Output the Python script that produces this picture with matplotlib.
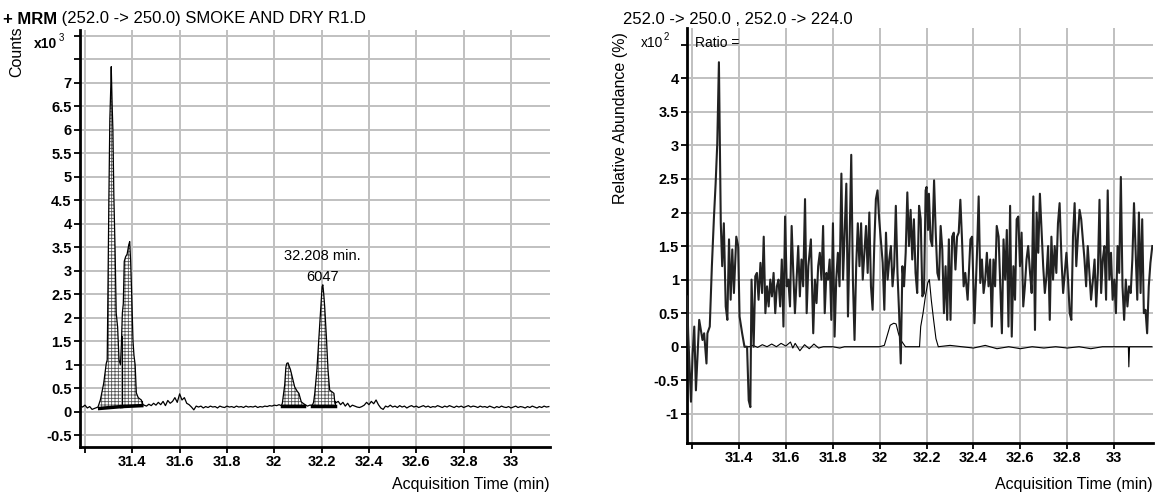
import numpy as np
import matplotlib.pyplot as plt

plt.rcParams['font.family'] = ['Liberation Sans', 'DejaVu Sans']
plt.rcParams['hatch.linewidth'] = 0.6

# ---------------- left panel: MRM chromatogram (counts x10^3) ----------------
noise_start = 31.18
noise_step = 0.01
noise_counts = [
    0.12, 0.10, 0.14, 0.08, 0.11, 0.05, 0.07, 0.06, 0.10, 0.15,   # 31.18
    0.15, 0.15, 0.15, 0.15, 0.15, 0.15, 0.15, 0.15, 0.15, 0.15,   # 31.28
    0.15, 0.15, 0.15, 0.15, 0.15, 0.15, 0.15, 0.14, 0.12, 0.16,   # 31.38
    0.13, 0.18, 0.14, 0.20, 0.15, 0.22, 0.13, 0.24, 0.18, 0.22,   # 31.48
    0.30, 0.20, 0.38, 0.25, 0.30, 0.18, 0.15, 0.10, 0.04, 0.12,   # 31.58
    0.10, 0.12, 0.08, 0.11, 0.09, 0.12, 0.10, 0.11, 0.08, 0.12,   # 31.68
    0.10, 0.09, 0.12, 0.10, 0.11, 0.09, 0.12, 0.10, 0.11, 0.09,   # 31.78
    0.12, 0.10, 0.11, 0.10, 0.12, 0.09, 0.11, 0.10, 0.12, 0.11,   # 31.88
    0.13, 0.12, 0.14, 0.13, 0.15, 0.15, 0.15, 0.15, 0.15, 0.15,   # 31.98
    0.15, 0.15, 0.15, 0.15, 0.15, 0.15, 0.12, 0.14, 0.14, 0.14,   # 32.08
    0.14, 0.14, 0.14, 0.14, 0.14, 0.14, 0.14, 0.14, 0.20, 0.22,   # 32.18
    0.15, 0.20, 0.12, 0.18, 0.10, 0.14, 0.12, 0.10, 0.09, 0.11,   # 32.28
    0.14, 0.20, 0.15, 0.22, 0.17, 0.25, 0.15, 0.08, 0.05, 0.12,   # 32.38
    0.10, 0.14, 0.10, 0.12, 0.09, 0.13, 0.10, 0.12, 0.08, 0.11,   # 32.48
    0.13, 0.10, 0.12, 0.09, 0.11, 0.13, 0.10, 0.12, 0.09, 0.11,   # 32.58
    0.10, 0.13, 0.11, 0.09, 0.12, 0.10, 0.13, 0.11, 0.09, 0.12,   # 32.68
    0.10, 0.12, 0.09, 0.11, 0.13, 0.10, 0.12, 0.11, 0.09, 0.12,   # 32.78
    0.10, 0.11, 0.09, 0.12, 0.10, 0.08, 0.11, 0.09, 0.12, 0.10,   # 32.88
    0.09, 0.11, 0.08, 0.10, 0.12, 0.09, 0.11, 0.10, 0.08, 0.11,   # 32.98
    0.09, 0.12, 0.10, 0.08, 0.11, 0.09, 0.12, 0.10, 0.11,         # 33.08
]

peak_time = [
    31.255, 31.265, 31.279, 31.290, 31.294, 31.297, 31.301, 31.305, 31.309, 31.311,
    31.315, 31.318, 31.322, 31.327, 31.332, 31.338, 31.344, 31.350, 31.354, 31.358,
    31.362, 31.366, 31.372, 31.378, 31.385, 31.389, 31.393, 31.398, 31.403, 31.407,
    31.412, 31.417, 31.425, 31.438, 31.445,
    32.030, 32.034, 32.044, 32.049, 32.053, 32.058, 32.062, 32.068, 32.072, 32.080,
    32.086, 32.095, 32.104, 32.114, 32.124,
    32.161, 32.166, 32.171, 32.180, 32.188, 32.195, 32.202, 32.205, 32.209, 32.213,
    32.220, 32.227, 32.234, 32.245, 32.252, 32.256,
]
peak_counts = [
    0.10, 0.25, 0.60, 1.03, 1.10, 2.60, 4.50, 6.20, 6.90, 7.34,
    6.50, 6.00, 4.60, 3.50, 2.10, 1.80, 1.10, 1.00, 1.45, 2.10,
    2.30, 3.20, 3.30, 3.35, 3.55, 3.62, 3.20, 2.40, 1.50, 1.20,
    1.00, 0.40, 0.30, 0.25, 0.15,
    0.13, 0.18, 0.57, 0.95, 1.03, 1.04, 0.98, 0.90, 0.82, 0.65,
    0.53, 0.45, 0.39, 0.21, 0.17,
    0.14, 0.20, 0.39, 0.89, 1.53, 2.09, 2.66, 2.70, 2.50, 2.23,
    1.60, 0.89, 0.46, 0.42, 0.39, 0.18,
]

# integration windows and their baselines
int_start = [31.262, 31.355, 32.032, 32.160]
int_end = [31.355, 31.440, 32.126, 32.255]
int_base_start = [0.07, 0.11, 0.12, 0.12]
int_base_end = [0.11, 0.13, 0.12, 0.12]

label_rt = 32.208
label_area = 6047

# ---------------- right panel: ion ratio trace (x10^2 %) ----------------
ratio_time = [
    31.180, 31.184, 31.196, 31.203, 31.210, 31.217, 31.231, 31.245, 31.252, 31.262,
    31.266, 31.276, 31.285, 31.294, 31.301, 31.308, 31.315, 31.323, 31.329, 31.336,
    31.344, 31.351, 31.358, 31.365, 31.372, 31.379, 31.389, 31.397, 31.403, 31.414,
    31.424, 31.435, 31.442, 31.449, 31.454, 31.463, 31.470, 31.477, 31.484, 31.492,
    31.499, 31.506, 31.513, 31.520, 31.527, 31.534, 31.541, 31.548, 31.555, 31.562,
    31.569, 31.576, 31.583, 31.590, 31.597, 31.604, 31.611, 31.618, 31.625, 31.632,
    31.639, 31.646, 31.653, 31.660, 31.667, 31.674, 31.682, 31.689, 31.696, 31.707,
    31.712, 31.717, 31.724, 31.731, 31.738, 31.745, 31.752, 31.759, 31.766, 31.773,
    31.780, 31.787, 31.794, 31.801, 31.808, 31.815, 31.822, 31.829, 31.837, 31.844,
    31.851, 31.858, 31.865, 31.872, 31.879, 31.886, 31.893, 31.900, 31.907, 31.914,
    31.921, 31.928, 31.935, 31.942, 31.949, 31.956, 31.963, 31.970, 31.977, 31.984,
    31.991, 31.998, 32.005, 32.013, 32.020, 32.027, 32.034, 32.041, 32.048, 32.055,
    32.062, 32.069, 32.076, 32.083, 32.090, 32.097, 32.104, 32.111, 32.118, 32.125,
    32.132, 32.139, 32.146, 32.153, 32.160, 32.168, 32.175, 32.182, 32.189, 32.196,
    32.200, 32.206, 32.210, 32.217, 32.224, 32.232, 32.239, 32.246, 32.253, 32.260,
    32.267, 32.274, 32.281, 32.288, 32.295, 32.302, 32.309, 32.316, 32.323, 32.330,
    32.337, 32.344, 32.351, 32.358, 32.365, 32.375, 32.387, 32.394, 32.404, 32.415,
    32.422, 32.429, 32.436, 32.443, 32.450, 32.457, 32.464, 32.471, 32.478, 32.485,
    32.492, 32.499, 32.507, 32.514, 32.521, 32.528, 32.535, 32.542, 32.549, 32.556,
    32.563, 32.570, 32.577, 32.584, 32.591, 32.598, 32.605, 32.612, 32.619, 32.626,
    32.633, 32.641, 32.648, 32.655, 32.662, 32.669, 32.676, 32.683, 32.690, 32.697,
    32.704, 32.711, 32.718, 32.725, 32.732, 32.739, 32.746, 32.753, 32.760, 32.767,
    32.775, 32.782, 32.789, 32.796, 32.803, 32.810, 32.817, 32.824, 32.831, 32.838,
    32.845, 32.852, 32.859, 32.866, 32.873, 32.880, 32.887, 32.894, 32.901, 32.909,
    32.916, 32.923, 32.930, 32.937, 32.944, 32.951, 32.958, 32.965, 32.972, 32.979,
    32.986, 32.993, 33.000, 33.007, 33.014, 33.021, 33.028, 33.035, 33.042, 33.049,
    33.056, 33.063, 33.070, 33.077, 33.084, 33.091, 33.098, 33.105, 33.112, 33.119,
    33.126, 33.133, 33.140, 33.147, 33.154, 33.162,
]
ratio_value = [
    0.75, 0.20, -0.82, -0.10, 0.30, -0.65, 0.40, 0.10, 0.20, -0.25,
    0.20, 0.30, 1.20, 1.94, 2.43, 3.03, 4.24, 1.84, 1.20, 1.84,
    0.60, 0.40, 1.60, 0.70, 1.45, 0.80, 1.64, 1.50, 0.45, 0.20,
    0.00, 0.00, -0.80, -0.90, 1.00, 0.00, 1.05, 1.10, 0.70, 1.25,
    0.80, 1.64, 0.50, 0.90, 0.60, 1.00, 0.75, 1.10, 0.50, 0.90,
    1.00, 0.60, 1.30, 0.30, 1.94, 0.90, 1.00, 0.60, 1.80, 1.10,
    0.50, 1.00, 1.50, 0.75, 1.30, 0.90, 2.20, 0.50, 1.20, 1.60,
    0.90, 0.20, 1.00, 0.65, 1.20, 1.40, 1.00, 1.80, 0.50, 1.10,
    1.00, 1.30, 0.40, 1.84, 0.15, 1.00, 1.40, 0.90, 2.58, 1.00,
    1.70, 2.43, 0.45, 1.60, 2.86, 1.00, 0.10, 1.20, 1.84, 1.20,
    1.84, 1.00, 1.40, 1.80, 1.10, 2.00, 0.90, 0.55, 1.50, 2.20,
    2.33, 1.90, 1.60, 1.25, 0.55, 1.70, 1.00, 1.30, 1.50, 0.90,
    1.20, 2.10, 1.10, 0.50, -0.25, 1.20, 0.90, 1.40, 2.30, 1.50,
    2.04, 1.30, 1.90, 1.10, 0.80, 2.10, 1.90, 0.75, 0.80, 2.33,
    2.38, 1.74, 2.28, 1.60, 1.50, 2.48, 1.70, 1.10, 1.00, 1.80,
    1.45, 0.50, 1.20, 0.40, 1.60, 0.40, 1.64, 1.70, 1.15, 1.64,
    1.70, 2.19, 1.60, 0.90, 1.10, 0.70, 1.60, 1.64, 0.35, 1.40,
    2.24, 0.95, 1.30, 0.80, 1.00, 1.40, 0.90, 1.30, 0.30, 1.30,
    0.90, 1.80, 1.64, 0.90, 0.20, 1.60, 1.00, 1.74, 0.30, 2.10,
    0.15, 1.20, 0.70, 1.90, 1.94, 1.20, 1.70, 0.60, 0.90, 1.30,
    1.50, 1.10, 0.80, 2.24, 0.25, 2.00, 1.40, 2.28, 1.74, 1.20,
    0.80, 1.05, 1.50, 0.40, 1.64, 1.00, 1.50, 1.10, 1.84, 2.14,
    1.30, 0.80, 1.10, 1.40, 1.00, 0.50, 0.40, 1.64, 2.14, 1.20,
    1.64, 2.04, 1.90, 1.60, 1.30, 0.90, 1.50, 1.10, 0.70, 1.00,
    1.30, 0.60, 1.10, 2.19, 0.80, 1.30, 1.50, 0.70, 2.33, 1.00,
    1.40, 0.70, 1.00, 0.50, 1.50, 1.10, 2.53, 0.90, 0.40, 1.00,
    0.60, 0.90, 0.80, 1.30, 2.14, 1.40, 0.70, 2.00, 0.80, 1.90,
    0.50, 0.55, 0.20, 0.90, 1.25, 1.50,
]

qual_time = [
    31.425, 31.445, 31.460, 31.480, 31.500, 31.520, 31.540, 31.560, 31.580, 31.600,
    31.620, 31.630, 31.640, 31.660, 31.680, 31.700, 31.720, 31.740, 31.760, 31.800,
    31.830, 31.850, 31.900, 31.950, 32.000, 32.020, 32.035, 32.045, 32.060, 32.070,
    32.080, 32.090, 32.100, 32.110, 32.170, 32.175, 32.185, 32.195, 32.205, 32.212,
    32.220, 32.230, 32.240, 32.250, 32.300, 32.350, 32.400, 32.450, 32.500, 32.550,
    32.600, 32.650, 32.700, 32.750, 32.800, 32.850, 32.900, 32.950, 33.000, 33.060,
    33.062, 33.065, 33.100, 33.160,
]
qual_value = [
    0.00, 0.00, 0.02, -0.01, 0.03, 0.00, 0.04, 0.00, 0.05, 0.01,
    0.07, -0.02, 0.05, -0.06, 0.03, -0.03, 0.04, -0.02, 0.00, 0.00,
    -0.02, 0.00, 0.00, 0.00, 0.00, 0.02, 0.20, 0.32, 0.35, 0.34,
    0.20, 0.10, 0.05, 0.00, 0.00, 0.30, 0.50, 0.75, 0.95, 1.00,
    0.70, 0.40, 0.12, 0.00, 0.02, 0.00, -0.02, 0.02, -0.03, 0.00,
    -0.03, 0.00, -0.02, 0.00, -0.02, 0.00, -0.03, 0.00, 0.00, 0.00,
    -0.30, 0.00, 0.00, 0.00,
]

x_ticks = [31.2, 31.4, 31.6, 31.8, 32.0, 32.2, 32.4, 32.6, 32.8, 33.0]
left_y_ticks = [-0.5, 0, 0.5, 1, 1.5, 2, 2.5, 3, 3.5, 4, 4.5, 5, 5.5, 6, 6.5, 7, 7.5, 8]
right_y_ticks = [-1, -0.5, 0, 0.5, 1, 1.5, 2, 2.5, 3, 3.5, 4, 4.5]

W, H = 1157, 496
GRID = '#c0c0c0'


def style_axis(ax, yticks, ymax_label):
    ax.set_xlim(31.179, 33.165)
    for s in ['top', 'right']:
        ax.spines[s].set_visible(False)
    for s in ['left', 'bottom']:
        ax.spines[s].set_linewidth(2)
    ax.set_xticks(x_ticks)
    ax.set_xticklabels(['' if t == x_ticks[0] else '%g' % t for t in x_ticks],
                       fontsize=10.5, fontweight='bold')
    ax.set_yticks(yticks)
    ax.set_yticklabels(['%g' % t if t <= ymax_label else '' for t in yticks],
                       fontsize=10.5, fontweight='bold')
    ax.tick_params(direction='out', length=4, width=1.3, pad=2)
    ax.grid(True, color=GRID, linewidth=1.4)
    ax.set_axisbelow(True)


fig = plt.figure(figsize=(W / 100, H / 100), dpi=100)

# ---- left ----
ax1 = fig.add_axes([80 / W, 1 - 447 / H, 470 / W, 417 / H])
nt = noise_start + noise_step * np.arange(len(noise_counts))
pt = np.array(peak_time)
keep = np.array([np.min(np.abs(pt - t)) > 0.0075 for t in nt])
lt = np.concatenate([nt[keep], pt])
lv = np.concatenate([np.array(noise_counts)[keep], np.array(peak_counts)])
order = np.argsort(lt)
lt, lv = lt[order], lv[order]

for s, e, b0, b1 in zip(int_start, int_end, int_base_start, int_base_end):
    m = (lt > s) & (lt < e)
    xs = np.concatenate([[s], lt[m], [e]])
    ys = np.interp(xs, lt, lv)
    base = b0 + (b1 - b0) * (xs - s) / (e - s)
    ax1.fill_between(xs, base, np.maximum(ys, base), facecolor='white',
                     edgecolor='#555555', hatch='+++++', linewidth=0, zorder=2)
    ax1.plot([s, e], [b0, b1], color='black', linewidth=2.5, zorder=3)
    ax1.plot([e, e], [b1, np.interp(e, lt, lv)], color='black', linewidth=0.8, zorder=3)

ax1.plot(lt, lv, color='black', linewidth=0.9, zorder=4)
ax1.set_ylim(-0.75, 8.12)
style_axis(ax1, left_y_ticks, 7)

ax1.text(label_rt - 0.004, 3.31, '%.3f min.' % label_rt, ha='center', va='center', fontsize=10.5)
ax1.text(label_rt - 0.004, 2.87, '%d' % label_area, ha='center', va='center', fontsize=10.5)

t1 = fig.text(3 / W, 1 - 19 / H, '+ MRM', fontsize=12, fontweight='bold', va='center')
ax1.annotate(' (252.0 -> 250.0) SMOKE AND DRY R1.D', xy=(1, 0), xycoords=t1,
             fontsize=12, va='bottom', ha='left')
fig.text(17 / W, 1 - 52 / H, 'Counts', rotation=90, fontsize=11.5, ha='center', va='center')
fig.text(34 / W, 1 - 44 / H, 'x10', fontsize=10, fontweight='bold', va='center')
fig.text(59 / W, 1 - 38 / H, '3', fontsize=7, va='center')
fig.text(550 / W, 1 - 484 / H, 'Acquisition Time (min)', fontsize=11.5, ha='right', va='center')

# ---- right ----
ax2 = fig.add_axes([687 / W, 1 - 443 / H, 466 / W, 415 / H])
ax2.plot(qual_time, qual_value, color='black', linewidth=0.8, zorder=3)
ax2.plot(ratio_time, ratio_value, color='#222222', linewidth=1.5, zorder=4)
ax2.set_ylim(-1.435, 4.75)
style_axis(ax2, right_y_ticks, 4)

fig.text(623 / W, 1 - 19 / H, '252.0 -> 250.0 , 252.0 -> 224.0', fontsize=12, va='center')
fig.text(695 / W, 1 - 43 / H, 'Ratio =', fontsize=10, va='center')
fig.text(620 / W, 1 - 32 / H, 'Relative Abundance (%)', rotation=90, fontsize=11.5,
         ha='center', va='top')
fig.text(641 / W, 1 - 43 / H, 'x10', fontsize=10, va='center')
fig.text(664 / W, 1 - 37 / H, '2', fontsize=7, va='center')
fig.text(1153 / W, 1 - 484 / H, 'Acquisition Time (min)', fontsize=11.5, ha='right', va='center')

fig.savefig('out.png', dpi=100)
